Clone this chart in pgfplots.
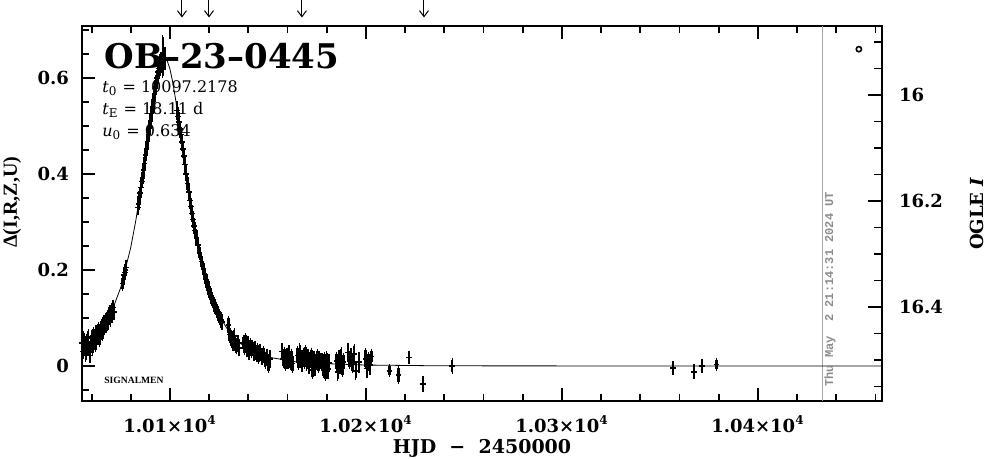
\documentclass[border=0pt]{standalone}
\usepackage{fontspec}
\setmainfont{DejaVu Serif}
\newfontfamily\libserif{Liberation Serif}
\newfontfamily\monofont{Liberation Mono}
\usepackage{pgfplots}
\usepackage{pgfplotstable}
\pgfplotsset{compat=1.18}
\usetikzlibrary{arrows.meta}

\pgfplotstableread{
t d e
10055.2 0.048 0.012
10055.6 0.030 0.012
10056.0 0.055 0.013
10056.5 0.038 0.012
10057.0 0.025 0.012
10057.4 0.050 0.013
10058.0 0.042 0.012
10058.3 0.060 0.013
10058.8 0.035 0.012
10059.2 0.022 0.012
10059.6 0.048 0.012
10060.1 0.058 0.013
10060.5 0.040 0.012
10061.0 0.065 0.012
10061.4 0.052 0.012
10062.0 0.045 0.012
10062.3 0.070 0.012
10063.0 0.060 0.012
10063.5 0.075 0.013
10064.0 0.055 0.012
10064.6 0.072 0.012
10065.0 0.082 0.012
10065.5 0.068 0.012
10066.0 0.090 0.013
10066.6 0.080 0.012
10067.0 0.095 0.012
10067.5 0.085 0.012
10068.0 0.100 0.012
10068.5 0.092 0.012
10069.0 0.110 0.013
10069.5 0.098 0.012
10070.0 0.115 0.012
10070.5 0.105 0.012
10071.0 0.122 0.012
10071.5 0.112 0.012
10075.8 0.172 0.012
10076.2 0.180 0.012
10076.6 0.190 0.012
10077.0 0.195 0.012
10077.3 0.200 0.012
10077.6 0.205 0.012
10083.6 0.330 0.012
10084.0 0.338 0.012
10084.4 0.352 0.012
10084.8 0.360 0.013
10085.2 0.372 0.013
10085.6 0.384 0.013
10086.0 0.392 0.013
10086.5 0.408 0.014
10087.0 0.422 0.014
10087.5 0.440 0.014
10088.0 0.452 0.015
10088.5 0.468 0.015
10089.0 0.482 0.015
10089.5 0.498 0.015
10090.0 0.510 0.016
10090.5 0.526 0.016
10091.0 0.540 0.016
10091.5 0.552 0.016
10092.0 0.566 0.017
10092.5 0.578 0.017
10093.0 0.590 0.017
10093.5 0.600 0.017
10094.0 0.612 0.018
10094.5 0.620 0.018
10095.0 0.627 0.018
10095.5 0.632 0.018
10096.3 0.645 0.040
10096.8 0.636 0.020
10097.4 0.640 0.020
10103.6 0.532 0.016
10104.0 0.520 0.016
10104.5 0.508 0.016
10105.0 0.494 0.015
10105.5 0.482 0.015
10106.0 0.466 0.015
10106.5 0.452 0.015
10107.0 0.438 0.015
10107.6 0.420 0.014
10108.3 0.400 0.014
10109.0 0.380 0.014
10109.7 0.362 0.014
10110.3 0.345 0.013
10110.8 0.332 0.013
10111.3 0.318 0.013
10111.8 0.305 0.013
10112.3 0.292 0.013
10112.8 0.282 0.013
10113.5 0.268 0.013
10114.2 0.252 0.012
10115.0 0.236 0.012
10116.0 0.218 0.012
10117.0 0.202 0.012
10117.6 0.192 0.012
10118.2 0.182 0.012
10118.8 0.175 0.012
10119.4 0.165 0.012
10120.0 0.158 0.012
10120.6 0.150 0.012
10121.2 0.142 0.012
10121.8 0.136 0.012
10122.4 0.128 0.012
10123.0 0.124 0.012
10123.6 0.118 0.012
10124.2 0.112 0.012
10124.8 0.106 0.012
10125.4 0.102 0.012
10126.0 0.096 0.012
10126.6 0.092 0.012
10129.8 0.085 0.016
10130.4 0.066 0.014
10131.0 0.060 0.014
10131.6 0.055 0.014
10132.2 0.050 0.014
10132.8 0.062 0.013
10133.4 0.045 0.014
10134.0 0.042 0.013
10134.6 0.048 0.013
10135.2 0.038 0.014
10137.5 0.048 0.013
10138.0 0.040 0.013
10138.6 0.052 0.013
10139.2 0.036 0.013
10139.8 0.045 0.013
10140.4 0.030 0.013
10141.0 0.042 0.013
10141.6 0.034 0.013
10142.2 0.038 0.013
10142.8 0.028 0.013
10143.4 0.034 0.013
10144.0 0.025 0.013
10144.6 0.030 0.013
10145.2 0.022 0.013
10146.0 0.028 0.013
10147.0 0.020 0.013
10147.8 0.024 0.014
10148.6 0.012 0.014
10149.4 0.018 0.014
10150.2 0.005 0.015
10151.0 0.015 0.014
10157.2 0.030 0.014
10157.8 0.015 0.014
10158.4 0.022 0.014
10159.0 0.008 0.014
10159.6 0.020 0.014
10160.2 0.012 0.014
10160.8 0.025 0.014
10161.4 0.010 0.014
10162.0 0.018 0.014
10162.6 0.005 0.015
10165.0 0.022 0.015
10165.6 0.010 0.014
10166.2 0.030 0.014
10166.8 0.015 0.014
10167.4 0.005 0.014
10168.0 0.020 0.014
10168.6 0.012 0.014
10169.2 0.025 0.015
10169.8 0.008 0.014
10170.4 0.018 0.014
10171.0 0.002 0.015
10171.6 0.015 0.014
10172.2 0.020 0.014
10172.8 -0.008 0.014
10173.4 0.012 0.015
10174.0 -0.002 0.015
10174.6 0.010 0.014
10175.2 0.018 0.014
10175.8 0.004 0.014
10176.4 0.012 0.015
10177.6 0.008 0.015
10178.2 -0.004 0.016
10178.8 0.010 0.015
10179.4 -0.012 0.015
10180.0 0.012 0.015
10180.6 -0.006 0.016
10181.2 0.006 0.015
10185.0 0.010 0.016
10185.6 -0.012 0.016
10186.2 0.015 0.015
10186.8 0.002 0.015
10187.4 0.020 0.016
10188.0 -0.002 0.016
10188.6 0.008 0.015
10190.8 0.028 0.016
10191.6 0.012 0.015
10192.4 0.018 0.016
10193.2 0.004 0.015
10194.0 0.025 0.016
10194.8 -0.010 0.016
10196.5 0.008 0.018
10199.8 0.015 0.018
10200.5 -0.005 0.016
10201.2 0.010 0.016
10202.0 0.002 0.016
10202.8 0.020 0.012
10212.0 -0.010 0.009
10216.5 -0.019 0.015
10222.0 0.018 0.010
10229.0 -0.037 0.013
10244.0 0.000 0.012
10356.6 -0.004 0.010
10367.3 -0.012 0.011
10371.4 0.000 0.011
10378.8 0.003 0.009
}\datatable

\pgfplotstableread{
t d
10055.1 0.0365
10060.0 0.0518
10065.0 0.0750
10070.0 0.1105
10075.0 0.1649
10080.0 0.2474
10082.5 0.3018
10085.0 0.3655
10086.5 0.4076
10088.0 0.4517
10089.5 0.4964
10091.0 0.5396
10092.5 0.5788
10094.0 0.6108
10095.5 0.6325
10097.2 0.6416
10098.5 0.6366
10100.0 0.6184
10101.5 0.5891
10103.0 0.5517
10104.5 0.5093
10106.0 0.4648
10107.5 0.4203
10109.0 0.3776
10110.5 0.3374
10112.0 0.3004
10115.0 0.2364
10117.5 0.1931
10120.0 0.1576
10125.0 0.1057
10130.0 0.0719
10135.0 0.0498
10140.0 0.0352
10150.0 0.0186
10165.0 0.0081
10180.0 0.0048
10200.0 0.0020
10230.0 0.0007
10260.0 0.0003
10300.0 0.0002
10400.0 0.0000
10463.3 0.0000
}\modeltable

\begin{document}
\begin{tikzpicture}
\begin{axis}[
  at={(0,0)}, anchor=south west,
  scale only axis, width=400pt, height=187.5pt,
  xmin=10055.1, xmax=10463.3, ymin=-0.0729, ymax=0.7083,
  scaled x ticks=false, scaled y ticks=false,
  axis line style={line width=1.2pt},
  every tick/.style={black, line width=0.9pt},
  major tick length=6.5pt, minor tick length=3.5pt,
  tick align=inside,
  xtick={10100,10200,10300,10400},
  xticklabels={1.01×10\textsuperscript{4},1.02×10\textsuperscript{4},1.03×10\textsuperscript{4},1.04×10\textsuperscript{4}},
  minor xtick={10060,10080,10120,10140,10160,10180,10220,10240,10260,10280,10320,10340,10360,10380,10420,10440,10460},
  ytick={0,0.2,0.4,0.6}, yticklabels={0,0.2,0.4,0.6},
  minor ytick={-0.05,0.05,0.1,0.15,0.25,0.3,0.35,0.45,0.5,0.55,0.65,0.7},
  ytick pos=left, xtick pos=both,
  tick label style={font=\fontsize{9}{10}\selectfont\bfseries},
  yticklabel style={xshift=-3pt},
  xticklabel style={yshift=-4pt},
  xlabel={HJD\ \ −\ \ 2450000},
  xlabel style={font=\fontsize{9.5}{10}\selectfont\bfseries, at={(axis description cs:0.5,0)}, anchor=center, yshift=-23.5pt},
  ylabel={Δ(I,R,Z,U)},
  ylabel style={font=\libserif\fontsize{10}{10}\selectfont\bfseries, at={(axis description cs:-0.0875,0.53)}, anchor=center},
  clip=false,
]
\addplot[gray!70, line width=0.5pt] coordinates {(10433,-0.0729) (10433,0.7083)};
\addplot[black, line width=0.4pt] table[x=t, y=d] {\modeltable};
\addplot[black, only marks, mark=-, mark size=1.4pt, mark options={line width=0.8pt},
  error bars/.cd, y dir=both, y explicit,
  error bar style={line width=1.2pt},
  error mark options={mark size=1pt, line width=0.7pt}]
  table[x=t, y=d, y error=e] {\datatable};
\addplot[black, only marks, mark=o, mark size=1.3pt, mark options={line width=0.8pt}] coordinates {(10451.5,0.66)};

\node[anchor=west, inner sep=0, font=\fontsize{17}{17}\selectfont\bfseries] at (axis cs:10066.6,0.645) {OB--23--0445};
\node[anchor=west, inner sep=0, font=\fontsize{8}{8}\selectfont] at (axis cs:10065.3,0.579) {\textit{t}\textsubscript{0} = 10097.2178};
\node[anchor=west, inner sep=0, font=\fontsize{8}{8}\selectfont] at (axis cs:10065.3,0.533) {\textit{t}\textsubscript{E} = 18.11 d};
\node[anchor=west, inner sep=0, font=\fontsize{8}{8}\selectfont] at (axis cs:10065.3,0.4875) {\textit{u}\textsubscript{0} = 0.634};
\node[anchor=west, inner sep=0, font=\libserif\bfseries\fontsize{4.8}{5}\selectfont] at (axis cs:10066.3,-0.029) {SIGNALMEN};
\node[rotate=90, inner sep=0, text=gray!90, font=\monofont\bfseries\fontsize{6}{6}\selectfont] at (axis cs:10436.8,0.16) {Thu May\ \ 2 21:14:31 2024 UT};

\draw[-{Straight Barb[length=3pt,width=4.5pt]}, line width=0.5pt] (axis cs:10106.1,0.7625) -- (axis cs:10106.1,0.726);
\draw[-{Straight Barb[length=3pt,width=4.5pt]}, line width=0.5pt] (axis cs:10119.9,0.7625) -- (axis cs:10119.9,0.726);
\draw[-{Straight Barb[length=3pt,width=4.5pt]}, line width=0.5pt] (axis cs:10167.3,0.7625) -- (axis cs:10167.3,0.726);
\draw[-{Straight Barb[length=3pt,width=4.5pt]}, line width=0.5pt] (axis cs:10229.6,0.7625) -- (axis cs:10229.6,0.726);
\end{axis}

\begin{axis}[
  at={(0,0)}, anchor=south west,
  scale only axis, width=400pt, height=187.5pt,
  xmin=10055.1, xmax=10463.3, ymin=15.8698, ymax=16.5774,
  scaled x ticks=false, scaled y ticks=false,
  y dir=reverse,
  axis x line=none, axis y line*=right,
  axis line style={-, line width=1.2pt},
  every tick/.style={black, line width=0.9pt},
  major tick length=7pt, minor tick length=4pt,
  tick align=inside,
  ytick={16,16.2,16.4}, yticklabels={16,16.2,16.4},
  minor ytick={15.9,15.95,16.05,16.1,16.15,16.25,16.3,16.35,16.45,16.5,16.55},
  tick label style={font=\fontsize{9}{10}\selectfont\bfseries},
  yticklabel style={xshift=5pt},
  ylabel={OGLE \textit{I}},
  ylabel style={font=\fontsize{9}{10}\selectfont\bfseries, at={(axis description cs:1.119,0.5)}, anchor=center, rotate=0},
]
\end{axis}

\pgfresetboundingbox
\path[use as bounding box] (-41pt,-29pt) rectangle (452pt,200.5pt);
\end{tikzpicture}
\end{document}
